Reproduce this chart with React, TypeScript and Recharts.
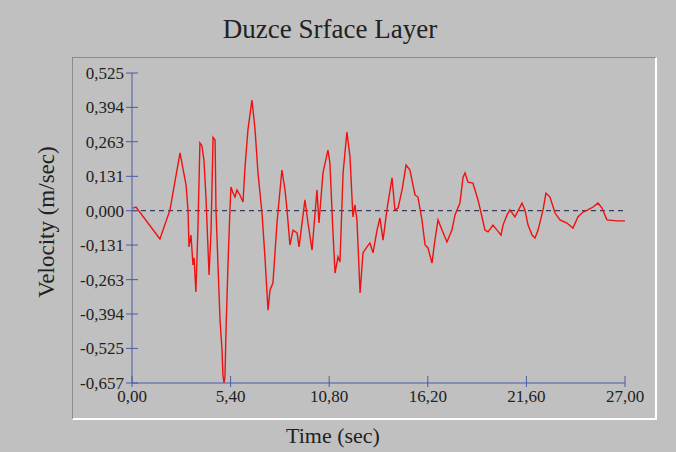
import { LineChart, Line, XAxis, YAxis, ReferenceLine } from "recharts";

// time (sec) and velocity (m/sec)
const times = [
  0.05, 0.22, 1.53, 2.08, 2.63, 2.96, 3.07, 3.12, 3.23, 3.34, 3.4, 3.5, 3.61, 3.72, 3.83, 3.94, 4.05, 4.22,
  4.33, 4.44, 4.55, 4.6, 4.71, 4.82, 4.93, 4.98, 5.04, 5.09, 5.15, 5.26, 5.37, 5.42, 5.53, 5.64, 5.75, 5.91,
  6.08, 6.19, 6.35, 6.57, 6.74, 6.9, 7.12, 7.28, 7.45, 7.56, 7.72, 7.94, 8.21, 8.38, 8.49, 8.65, 8.82, 9.04,
  9.15, 9.47, 9.64, 9.86, 10.13, 10.24, 10.46, 10.73, 10.84, 11.0, 11.12, 11.28, 11.39, 11.56, 11.77, 11.94,
  12.1, 12.21, 12.32, 12.49, 12.65, 12.87, 13.03, 13.2, 13.42, 13.58, 13.75, 13.96, 14.24, 14.4, 14.57, 14.79,
  15.01, 15.22, 15.5, 15.66, 15.88, 16.05, 16.21, 16.43, 16.59, 16.76, 16.98, 17.25, 17.52, 17.69, 17.96,
  18.13, 18.24, 18.4, 18.67, 18.95, 19.17, 19.33, 19.5, 19.77, 19.99, 20.21, 20.32, 20.54, 20.7, 20.97,
  21.36, 21.52, 21.69, 21.91, 22.07, 22.24, 22.51, 22.67, 22.89, 23.17, 23.44, 23.82, 24.15, 24.42, 24.7,
  24.97, 25.25, 25.52, 25.74, 26.01, 26.56, 27.0,
];
const velocity = [
  0.01, 0.014, -0.108, 0.003, 0.22, 0.098, 0.0, -0.138, -0.093, -0.207, -0.18, -0.31, -0.07, 0.258, 0.247,
  0.193, 0.052, -0.245, -0.074, 0.28, 0.27, 0.003, -0.207, -0.417, -0.53, -0.626, -0.657, -0.637, -0.455,
  -0.2, 0.014, 0.09, 0.068, 0.052, 0.079, 0.06, 0.033, 0.167, 0.308, 0.422, 0.308, 0.144, -0.009, -0.176,
  -0.379, -0.302, -0.276, -0.047, 0.155, 0.079, 0.003, -0.131, -0.074, -0.085, -0.138, 0.041, -0.047, -0.15,
  0.079, -0.047, 0.144, 0.231, 0.182, -0.074, -0.238, -0.176, -0.196, 0.144, 0.3, 0.205, -0.024, 0.022,
  -0.035, -0.314, -0.161, -0.138, -0.123, -0.161, -0.074, -0.028, -0.112, 0.003, 0.125, 0.003, 0.01, 0.079,
  0.174, 0.155, 0.06, 0.052, -0.035, -0.131, -0.142, -0.2, -0.112, -0.035, -0.074, -0.119, -0.074, -0.016,
  0.029, 0.128, 0.144, 0.109, 0.105, 0.041, -0.024, -0.074, -0.081, -0.055, -0.074, -0.093, -0.055, -0.016,
  0.003, -0.024, 0.029, 0.003, -0.055, -0.093, -0.104, -0.074, 0.003, 0.067, 0.052, -0.009, -0.035, -0.047,
  -0.066, -0.024, -0.005, 0.003, 0.014, 0.029, 0.01, -0.035, -0.039, -0.039,
];
const xTicks = [0, 5.4, 10.8, 16.2, 21.6, 27];
const yTicks = [-0.657, -0.525, -0.394, -0.263, -0.131, 0, 0.131, 0.263, 0.394, 0.525];

const data = times.map((t, i) => ({ t, v: velocity[i] }));

const AXIS = "#4a5aa8";
const FONT = "'Liberation Serif', 'Times New Roman', serif";

const fmt = (v: number, d: number) => v.toFixed(d).replace(".", ",");

const XTick = ({ x, y, payload }: any) => (
  <g>
    <line x1={x} x2={x} y1={y - 13} y2={y - 2} stroke={AXIS} />
    <text x={x} y={y} dy="0.74em" textAnchor="middle" fill="#222" fontSize={17} fontFamily={FONT}>
      {fmt(payload.value, 2)}
    </text>
  </g>
);

const YTick = ({ x, y, payload }: any) => (
  <g>
    <line x1={x + 2} x2={x + 14} y1={y} y2={y} stroke={AXIS} />
    <text x={x} y={y} dy="0.35em" textAnchor="end" fill="#222" fontSize={17} fontFamily={FONT}>
      {fmt(payload.value, 3)}
    </text>
  </g>
);

export default function App() {
  return (
    <div
      style={{
        position: "absolute",
        left: 0,
        top: 0,
        width: 676,
        height: 452,
        background: "#c0c0c0",
        fontFamily: FONT,
        color: "#222",
        overflow: "hidden",
      }}
    >
      {/* sunken panel */}
      <div
        style={{
          position: "absolute",
          left: 72,
          top: 57,
          width: 582,
          height: 360,
          borderTop: "1px solid #8c8c8c",
          borderLeft: "1px solid #8c8c8c",
          borderRight: "2px solid #ffffff",
          borderBottom: "2px solid #ffffff",
        }}
      />
      <div style={{ position: "absolute", left: 0, width: 660, top: 14, textAlign: "center", fontSize: 27 }}>
        Duzce Srface Layer
      </div>
      <div
        style={{
          position: "absolute",
          left: 47,
          top: 222,
          transform: "translate(-50%, -50%) rotate(-90deg)",
          whiteSpace: "nowrap",
          fontSize: 23,
        }}
      >
        Velocity (m/sec)
      </div>
      <div style={{ position: "absolute", left: 0, width: 666, top: 423, textAlign: "center", fontSize: 22 }}>
        Time (sec)
      </div>
      <div style={{ position: "absolute", left: 0, top: 0 }}>
        <LineChart width={676} height={452} data={data} margin={{ top: 73, right: 51, bottom: 39, left: 72 }}>
          <XAxis
            dataKey="t"
            type="number"
            domain={[0, 27]}
            ticks={xTicks}
            interval={0}
            height={30}
            stroke={AXIS}
            tickLine={false}
            tickSize={4}
            tickMargin={2}
            tick={<XTick />}
          />
          <YAxis
            type="number"
            domain={[-0.657, 0.525]}
            ticks={yTicks}
            interval={0}
            width={60}
            stroke={AXIS}
            tickLine={false}
            tickSize={6}
            tickMargin={2}
            tick={<YTick />}
          />
          <ReferenceLine y={0} stroke="#1c1c4c" strokeDasharray="5 4" />
          <Line
            type="linear"
            dataKey="v"
            stroke="#f01010"
            strokeWidth={1.4}
            dot={false}
            isAnimationActive={false}
          />
        </LineChart>
      </div>
    </div>
  );
}
